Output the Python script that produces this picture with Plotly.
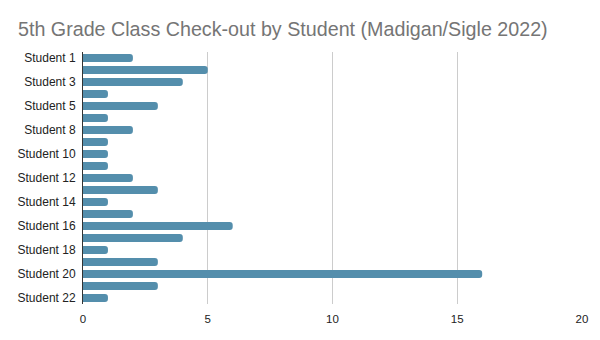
import plotly.graph_objects as go

students = ["Student 1", "Student 2", "Student 3", "Student 4", "Student 5", "Student 6",
            "Student 8", "Student 9", "Student 10", "Student 11", "Student 12", "Student 13",
            "Student 14", "Student 15", "Student 16", "Student 17", "Student 18", "Student 19",
            "Student 20", "Student 21", "Student 22"]
checkouts = [2, 5, 4, 1, 3, 1, 2, 1, 1, 1, 2, 3, 1, 2, 6, 4, 1, 3, 16, 3, 1]
shown_labels = students[::2]
x_ticks = [0, 5, 10, 15, 20]

fig = go.Figure(go.Bar(
    y=students, x=checkouts, orientation="h",
    marker=dict(color="#548eac", line=dict(width=0)),
))
fig.update_layout(
    width=600, height=340,
    margin=dict(l=83, r=18, t=52, b=36),
    paper_bgcolor="white", plot_bgcolor="white",
    bargap=0.33, barcornerradius=3,
    showlegend=False,
    title=dict(text="5th Grade Class Check-out by Student (Madigan/Sigle 2022)",
               x=0.03, xanchor="left", y=0.915, yanchor="middle",
               font=dict(family="Liberation Sans, Arial, sans-serif", size=19.7, color="#757575")),
    font=dict(family="Liberation Sans, Arial, sans-serif", size=12, color="#222222"),
)
fig.update_xaxes(range=[0, 20], tickvals=x_ticks, showgrid=True, gridcolor="#cccccc",
                 gridwidth=1, zeroline=False, showline=False, ticks="", ticklabelstandoff=6,
                 tickfont=dict(size=11.5, color="#222222"), fixedrange=True)
fig.update_yaxes(autorange="reversed", tickvals=shown_labels, ticktext=shown_labels,
                 showgrid=False, showline=True, linecolor="#333333", linewidth=1,
                 ticks="", ticklabelstandoff=4, tickfont=dict(size=12, color="#222222"))
fig.write_html("out.html")
